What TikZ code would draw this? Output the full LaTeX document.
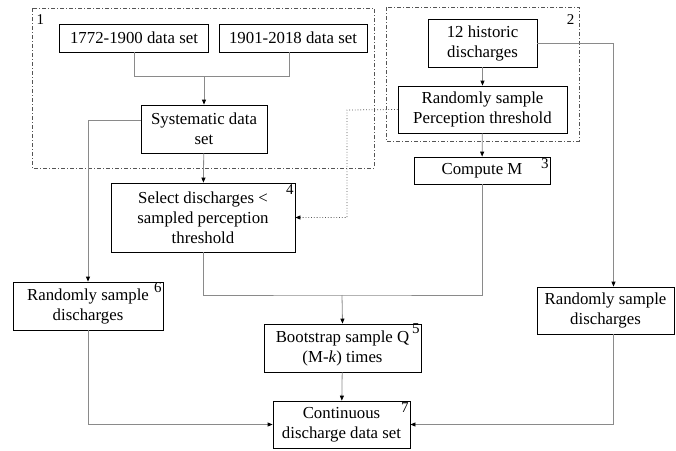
\documentclass[tikz,border=0pt]{standalone}
\usepackage{fontspec}
\setmainfont{Liberation Serif}
\usetikzlibrary{arrows.meta, positioning, calc}
\definecolor{linegray}{HTML}{8A8A8A}
\definecolor{grpgray}{HTML}{555555}

\begin{document}
\begin{tikzpicture}[
    x=1pt, y=-1pt,
    every node/.style={font=\fontsize{16.8}{20}\selectfont},
    blk/.style={rectangle, draw=black, line width=0.8pt, align=center, inner sep=2pt},
    num/.style={font=\fontsize{15}{15}\selectfont, inner sep=1.5pt},
    grp/.style={draw=grpgray, line width=0.8pt, dash pattern=on 4pt off 2pt on 1pt off 2pt},
    con/.style={draw=linegray, line width=0.8pt},
    arr/.style={con, -{Triangle[length=5pt, width=4pt, color=black]}},
    dotarr/.style={draw=grpgray, line width=0.8pt, dotted, -{Triangle[length=5pt, width=4pt, color=black]}}
]
    \useasboundingbox (0,0) rectangle (676,450);

    % groups
    \draw[grp] (32,8) rectangle (374,168);
    \draw[grp] (386,7) rectangle (579,141);
    \node[num, anchor=north west] (g1) at (35,13) {1};
    \node[num, anchor=north east] (g2) at (576,13) {2};

    % boxes
    \node[blk, minimum width=149, minimum height=28] (d1)   at (134,38)    {1772-1900 data set};
    \node[blk, minimum width=148, minimum height=28] (d2)   at (293,38)    {1901-2018 data set};
    \node[blk, minimum width=126, minimum height=48] (sys)  at (204,129)   {Systematic data\\set};
    \node[blk, minimum width=184, minimum height=69] (sel)  at (203,217.5) {Select discharges <\\sampled perception\\threshold};
    \node[blk, minimum width=109, minimum height=48] (hist) at (482.5,43)  {12 historic\\discharges};
    \node[blk, minimum width=169, minimum height=47] (perc) at (482.5,109.5) {Randomly sample\\Perception threshold};
    \node[blk, minimum width=136, minimum height=27] (cm)   at (482,170.5) {Compute M};
    \node[blk, minimum width=150, minimum height=48] (rs6)  at (88,306)    {Randomly sample\\discharges};
    \node[blk, minimum width=157, minimum height=48] (boot) at (342.5,348) {Bootstrap sample Q\\(M-\textit{k}) times};
    \node[blk, minimum width=137, minimum height=47] (cont) at (341.5,424.5) {Continuous\\discharge data set};
    \node[blk, minimum width=137, minimum height=47] (rsr)  at (605.5,310.5) {Randomly sample\\discharges};

    % step numbers
    \node[num, anchor=north east] (n3) at (cm.north east)   {3};
    \node[num, anchor=north east] (n4) at (sel.north east)  {4};
    \node[num, anchor=north east] (n5) at ([yshift=2pt]boot.north east) {5};
    \node[num, anchor=north east] (n6) at ([yshift=1pt]rs6.north east)  {6};
    \node[num, anchor=north east] (n7) at (cont.north east) {7};

    % connectors
    \coordinate (j1) at (204,76);
    \coordinate (j2) at (342,295);
    \coordinate (dj) at (347,110);
    \draw[con] (d1.south) |- (j1);
    \draw[con] ([xshift=-4pt]d2.south) |- (j1);
    \draw[arr] (j1) -- (sys.north);
    \draw[arr] (sys) -- (sel);
    \draw[arr] ([yshift=9pt]sys.west) -| (rs6.north);
    \draw[arr] (hist) -- (perc);
    \draw[arr] (perc) -- (cm);
    \draw[dotarr] (perc.west) -- (dj) |- (sel.east);
    \draw[arr] (hist.east) -| ([xshift=8pt]rsr.north);
    \draw[con] (sel.south) |- (j2) -| (cm.south);
    \draw[arr] (j2) -- (boot.north);
    \draw[arr] (boot) -- (cont);
    \draw[arr] (rs6.south) |- (cont.west);
    \draw[arr] ([xshift=8pt]rsr.south) |- (cont.east);
\end{tikzpicture}
\end{document}
